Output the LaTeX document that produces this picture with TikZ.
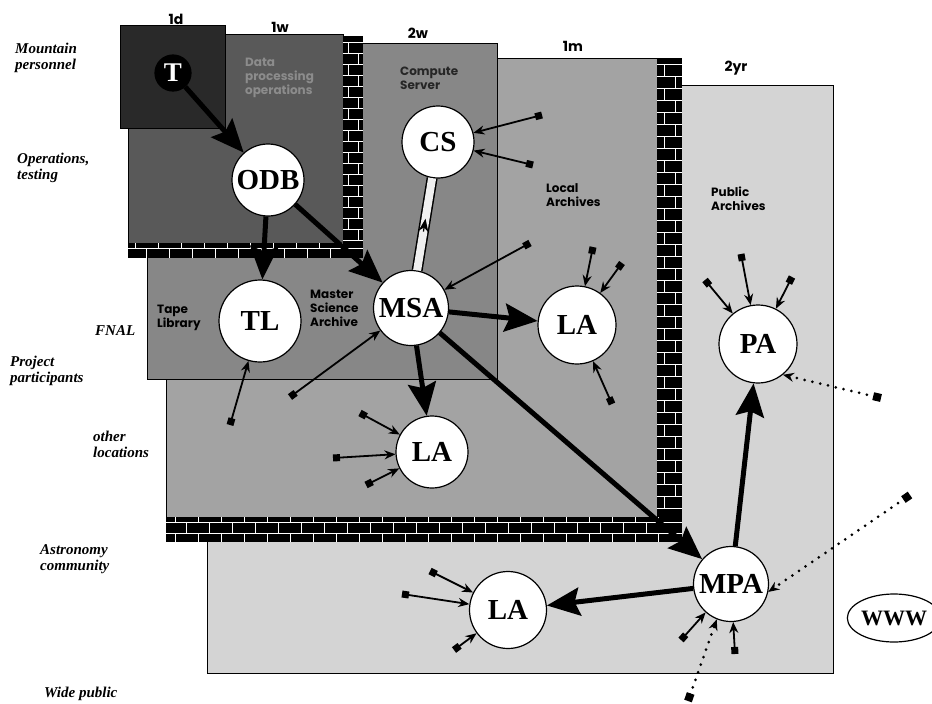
\documentclass[tikz,border=0pt]{standalone}
\usepackage{fontspec}
\setmainfont{Liberation Serif}
\newfontfamily\geofont{Poppins}
\usepackage{tikz}
\usetikzlibrary{arrows.meta,positioning,shapes.geometric}
\definecolor{toneday}{gray}{0.16}
\definecolor{toneweek}{gray}{0.35}
\definecolor{tonetwow}{gray}{0.53}
\definecolor{tonemonth}{gray}{0.64}
\definecolor{toneyear}{gray}{0.83}

\begin{document}
\begin{tikzpicture}[x=1pt, y=-1pt,
  panel/.style={draw=black, line width=1pt},
  site/.style={circle, draw, fill=white, line width=1.2pt, minimum size=75pt, inner sep=0pt,
    font=\fontsize{29}{29}\selectfont\bfseries},
  span/.style={font=\geofont\bfseries\fontsize{14}{14}\selectfont},
  area/.style={font=\geofont\bfseries\fontsize{12}{14}\selectfont, align=left, anchor=north west, inner sep=0pt},
  who/.style={font=\bfseries\itshape\fontsize{15}{16}\selectfont, align=left, anchor=west, inner sep=0pt},
  flow/.style={-{Stealth[length=33pt,width=28pt,inset=5pt]}, line width=5pt},
  feed/.style={{Square[length=7pt,width=7pt]}-{Stealth[length=11pt,width=9pt]}, line width=1.8pt},
  web/.style={{Square[length=8pt,width=8pt]}-{Stealth[length=11pt,width=9pt]}, line width=3pt,
    dash pattern=on 0pt off 8pt, line cap=round},
  pipe/.style={double=gray!12, double distance=8pt, line width=1.5pt},
  pipetip/.style={-{Stealth[length=13pt,width=10pt]}, line width=1.2pt},
  brick/.style={white, line width=0.8pt}]
  \useasboundingbox (0,0) rectangle (932,704);

  % panels, outermost first
  \draw[panel, fill=toneyear] (207,85) rectangle (833,673);
  \draw[panel, fill=tonemonth] (166,58) rectangle (657,517);
  \fill[black] (657,58) rectangle (682,542);
  \fill[black] (166,517) rectangle (682,542);
  \foreach \yy in {64,76,...,512} \draw[brick] (657,\yy) -- (682,\yy);
  \foreach \yy in {64,88,...,500} \draw[brick] (664,\yy) -- (664,\yy+12);
  \foreach \yy in {76,100,...,500} \draw[brick] (675,\yy) -- (675,\yy+12);
  \draw[brick] (166,522) -- (682,522);
  \draw[brick] (166,533) -- (682,533);
  \foreach \xx in {175,198,...,660} \draw[brick] (\xx,517) -- (\xx,522) (\xx,533) -- (\xx,542);
  \foreach \xx in {186,209,...,660} \draw[brick] (\xx,522) -- (\xx,533);

  \draw[panel, fill=tonetwow] (147,43) rectangle (497,379);
  \draw[panel, fill=toneweek] (128,34) rectangle (343,243);
  \fill[black] (343,36) rectangle (363,258);
  \fill[black] (128,243) rectangle (363,258);
  \foreach \yy in {42,53,...,240} \draw[brick] (343,\yy) -- (363,\yy);
  \foreach \yy in {42,64,...,230} \draw[brick] (348,\yy) -- (348,\yy+11);
  \foreach \yy in {53,75,...,230} \draw[brick] (358,\yy) -- (358,\yy+11);
  \draw[brick] (128,248) -- (363,248);
  \foreach \xx in {135,158,...,350} \draw[brick] (\xx,243) -- (\xx,248);
  \foreach \xx in {146,169,...,350} \draw[brick] (\xx,248) -- (\xx,258);
  \draw[panel, fill=toneday] (120,25) rectangle (225,128);

  % retention periods
  \node[span] (d1) at (176,19) {1d};
  \node[span] (w1) at (280,27) {1w};
  \node[span] (w2) at (418,33) {2w};
  \node[span] (m1) at (573,46) {1m};
  \node[span] (y2) at (736,68) {2yr};

  % user groups
  \node[who] (mtn) at (15,58) {Mountain\\personnel};
  \node[who] (ops) at (17,168) {Operations,\\testing};
  \node[who] (fnal) at (95,331) {FNAL};
  \node[who] (proj) at (10,371) {Project\\participants};
  \node[who] (other) at (93,444) {other\\locations};
  \node[who] (astro) at (40,559) {Astronomy\\community};
  \node[who] (pub) at (44,694) {Wide public};

  % area names
  \node[area, text=black!45] (dpo) at (245,58) {Data\\processing\\operations};
  \node[area, text=black!85] (csl) at (400,67) {Compute\\Server};
  \node[area] (lal) at (546,183) {Local\\Archives};
  \node[area] (pal) at (711,187) {Public\\Archives};
  \node[area] (tll) at (157,305) {Tape\\Library};
  \node[area] (msl) at (310,290) {Master\\Science\\Archive};

  % archives
  \node[site, fill=black, text=white, minimum size=36pt, font=\fontsize{27}{27}\selectfont\bfseries] (T) at (173,73) {T};
  \node[site, minimum size=72pt] (ODB) at (268,180) {ODB};
  \node[site, minimum size=72pt] (CS) at (438,142) {CS};
  \node[site, minimum size=82pt] (TL) at (260,321) {TL};
  \node[site] (MSA) at (411,308) {MSA};
  \node[site, minimum size=78pt] (LAr) at (577,325) {LA};
  \node[site, minimum size=72pt] (LAm) at (432,452) {LA};
  \node[site, minimum size=78pt] (PA) at (758,344) {PA};
  \node[site] (MPA) at (731,584) {MPA};
  \node[site, minimum size=77pt] (LAb) at (508,610) {LA};
  \node[ellipse, draw, line width=1.2pt, minimum width=74pt, minimum height=48pt, inner sep=0pt,
    font=\fontsize{22}{22}\selectfont\bfseries] (WWW) at (894,618) {WWW};

  % data flow
  \draw[flow] (T) -- (ODB);
  \draw[flow] (ODB) -- (TL);
  \draw[flow] (ODB) -- (MSA);
  \draw[pipe] (MSA) -- (CS) coordinate[pos=0.42] (pipelow) coordinate[pos=0.56] (pipehigh);
  \draw[pipetip] (pipelow) -- (pipehigh);
  \draw[flow] (MSA) -- (LAr);
  \draw[flow] (MSA) -- (LAm);
  \draw[flow] (MSA) -- (MPA);
  \draw[flow] (MPA) -- (PA);
  \draw[flow] (MPA) -- (LAb);

  % users
  \coordinate (cs1) at (542,115);
  \coordinate (cs2) at (533,165);
  \coordinate (msa1) at (530,243);
  \coordinate (msa2) at (290,397);
  \coordinate (tl1) at (230,425);
  \coordinate (lar1) at (593,247);
  \coordinate (lar2) at (622,263);
  \coordinate (lar3) at (612,404);
  \coordinate (lam1) at (360,413);
  \coordinate (lam2) at (333,458);
  \coordinate (lam3) at (366,485);
  \coordinate (lab1) at (430,571);
  \coordinate (lab2) at (402,594);
  \coordinate (lab3) at (454,650);
  \coordinate (pa1) at (705,280);
  \coordinate (pa2) at (741,254);
  \coordinate (pa3) at (792,277);
  \coordinate (mpa1) at (681,640);
  \coordinate (mpa2) at (735,654);
  \coordinate (pa4) at (881,398);
  \coordinate (mpa3) at (688,701);
  \coordinate (mpa4) at (910,495);
  \foreach \src/\dst in {cs1/CS, cs2/CS, msa1/MSA, msa2/MSA, tl1/TL, lar1/LAr, lar2/LAr, lar3/LAr,
    lam1/LAm, lam2/LAm, lam3/LAm, lab1/LAb, lab2/LAb, lab3/LAb, pa1/PA, pa2/PA, pa3/PA, mpa1/MPA, mpa2/MPA}
    \draw[feed] (\src) -- (\dst);
  \draw[web] (pa4) -- (PA.-51);
  \draw[web] (mpa3) -- (MPA.-112);
  \draw[web] (mpa4) -- (MPA.-12);
\end{tikzpicture}
\end{document}
